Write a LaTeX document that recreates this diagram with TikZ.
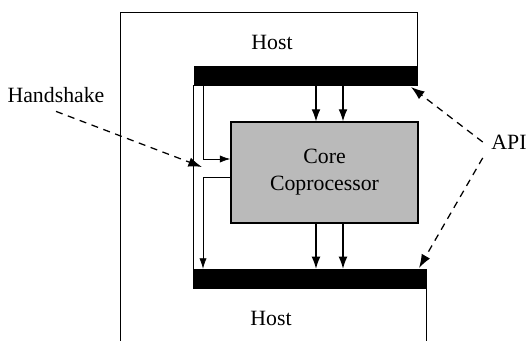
\documentclass[tikz,border=0pt]{standalone}
\usepackage{fontspec}
\setmainfont{Liberation Serif}
\usepackage{tikz}
\usetikzlibrary{positioning, arrows.meta}

\begin{document}
\begin{tikzpicture}[
    x=0.025cm, y=-0.025cm,
    font=\fontsize{15.5}{19.2}\selectfont,
    bus/.style={rectangle, fill=black, draw=black, inner sep=0pt, minimum height=0.475cm},
    corebox/.style={rectangle, draw, line width=1pt, fill=black!27, minimum width=4.675cm, minimum height=2.525cm, align=center},
    tag/.style={inner sep=6pt},
    data/.style={-{Latex[length=3mm,width=2.2mm]}, line width=0.75pt},
    hshk/.style={-{Latex[length=2.6mm,width=1.8mm]}, line width=0.5pt},
    note/.style={-{Latex[length=3.4mm,width=2.4mm]}, line width=0.9pt, dash pattern=on 5pt off 4pt},
    wall/.style={line width=0.7pt}
]
\useasboundingbox (0,0) rectangle (527,341);

% Nodes
\node[bus, minimum width=5.575cm] (apitop) at (305.5,75.5) {};
\node[bus, minimum width=5.825cm] (apibot) at (309.5,278.5) {};
\node[corebox] (core) at (324.5,172.5) {Core\\Coprocessor};

\node (hosttop) at (272,42) {Host};
\node (hostbot) at (271,318) {Host};
\node[tag] (hs) at (56,95) {Handshake};
\node[tag] (api) at (509,142) {API};

\coordinate (hsx) at (203,0);
\coordinate (d1) at (316,0);
\coordinate (d2) at (343,0);
\coordinate (hsreq) at (0,159);
\coordinate (hsack) at (0,177);
\coordinate (hstip) at (202,167);
\coordinate (apitip1) at (411,87);
\coordinate (apitip2) at (419,268);

% Host outline
\draw[wall] (120,341) -- (120,12) -| (apitop.north east);
\draw[wall] (apitop.south west) -- (apitop.south west |- apibot.north);
\draw[wall] (apibot.south east) -- ++(0,53);

% Edges
\draw[data] (apitop.south -| d1) -- (core.north -| d1);
\draw[data] (apitop.south -| d2) -- (core.north -| d2);
\draw[data] (core.south -| d1) -- (apibot.north -| d1);
\draw[data] (core.south -| d2) -- (apibot.north -| d2);
\draw[hshk] (apitop.south -| hsx) |- (core.west |- hsreq);
\draw[hshk] (core.west |- hsack) -| (apibot.north -| hsx);

\draw[note] (hs.south) -- (hstip);
\draw[note] (api.west) -- (apitip1);
\draw[note] (api.south west) -- (apitip2);

\end{tikzpicture}
\end{document}
